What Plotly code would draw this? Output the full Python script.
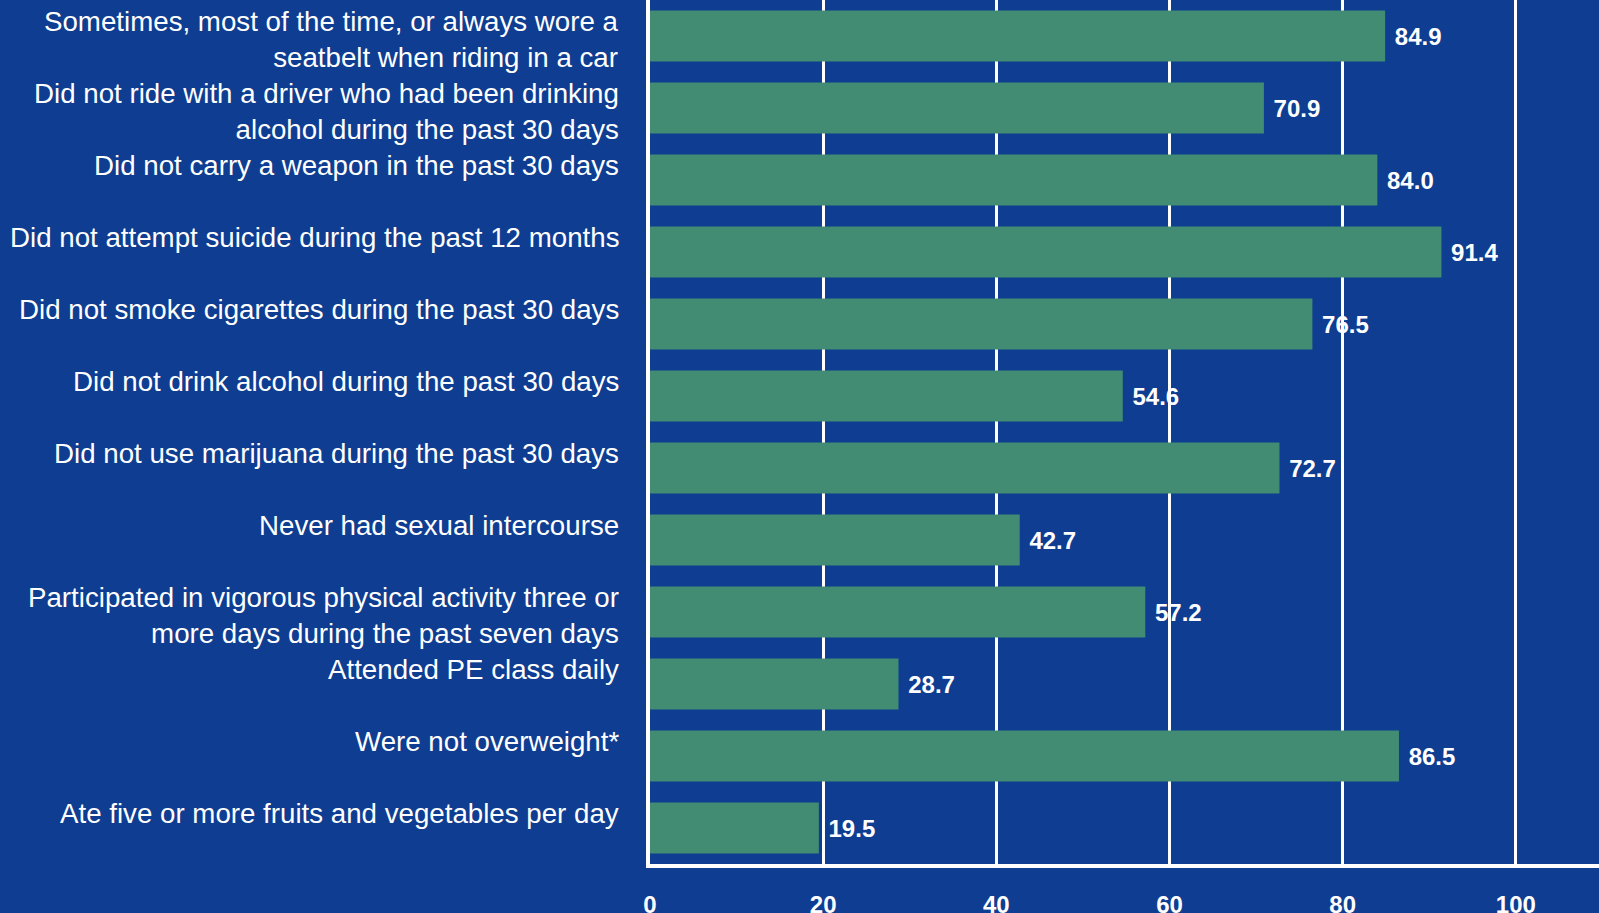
import plotly.graph_objects as go

categories = [
    "Sometimes, most of the time, or always wore a<br>seatbelt when riding in a car",
    "Did not ride with a driver who had been drinking<br>alcohol during the past 30 days",
    "Did not carry a weapon in the past 30 days",
    "Did not attempt suicide during the past 12 months",
    "Did not smoke cigarettes during the past 30 days",
    "Did not drink alcohol during the past 30 days",
    "Did not use marijuana during the past 30 days",
    "Never had sexual intercourse",
    "Participated in vigorous physical activity three or<br>more days during the past seven days",
    "Attended PE class daily",
    "Were not overweight*",
    "Ate five or more fruits and vegetables per day",
]
values = [84.9, 70.9, 84.0, 91.4, 76.5, 54.6, 72.7, 42.7, 57.2, 28.7, 86.5, 19.5]
x_ticks = [0, 20, 40, 60, 80, 100]

BG = "#0E3D91"
BAR = "#418C72"
FONT = "Liberation Sans, Arial, sans-serif"

fig = go.Figure()
fig.add_trace(go.Bar(
    y=list(range(len(categories))),
    x=values,
    orientation="h",
    marker=dict(color=BAR, line=dict(width=0)),
    text=[f"\u00a0{v:.1f}" for v in values],
    textposition="outside",
    textfont=dict(family=FONT, size=24, color="white", weight="bold"),
    cliponaxis=False,
    hoverinfo="skip",
))

for i, c in enumerate(categories):
    fig.add_annotation(
        x=0, xref="paper", xanchor="right", xshift=-29,
        y=i, yref="y", yanchor="top", yshift=32,
        text=c, showarrow=False, align="right",
        font=dict(family=FONT, size=27.7, color="white"),
    )

fig.update_layout(
    width=1599, height=913,
    margin=dict(l=650, r=0, t=0, b=49, autoexpand=False),
    paper_bgcolor=BG, plot_bgcolor=BG,
    bargap=0.29,
    showlegend=False,
    xaxis=dict(
        range=[0, 109.6],
        tickvals=x_ticks,
        ticktext=[str(t) for t in x_ticks],
        showgrid=True, gridcolor="white", gridwidth=3,
        showline=True, linecolor="white", linewidth=4, mirror=True,
        zeroline=False, automargin=False,
        ticks="", ticklabelstandoff=16,
        tickfont=dict(family=FONT, size=24, color="white", weight="bold"),
        fixedrange=True,
    ),
    yaxis=dict(
        range=[len(categories) - 0.5, -0.5],
        showticklabels=False,
        showgrid=False,
        showline=True, linecolor="white", linewidth=4,
        zeroline=False, ticks="", automargin=False,
        fixedrange=True,
    ),
)

fig.write_html(
    "out.html",
    config={"displayModeBar": False},
    post_script="document.body.style.margin='0';document.body.style.overflow='hidden';"
                "document.body.style.background='" + BG + "';",
)
